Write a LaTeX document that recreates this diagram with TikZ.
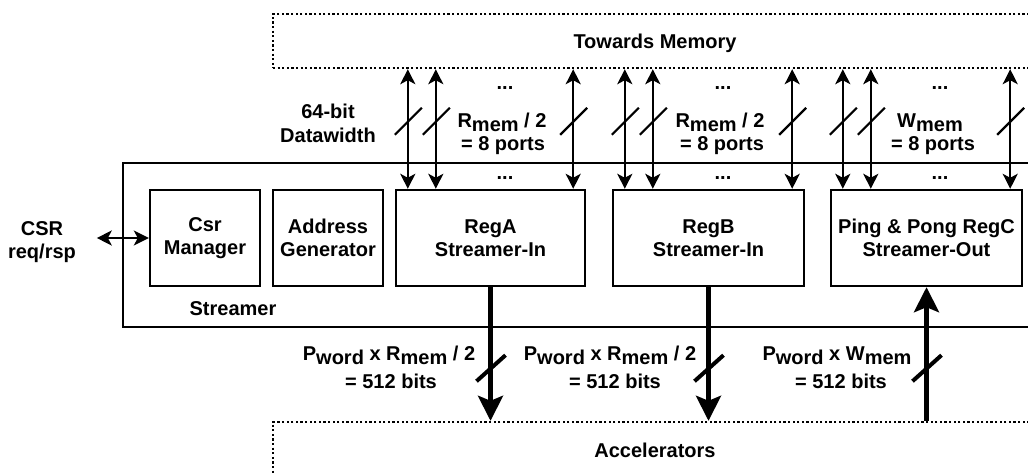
\documentclass[tikz,border=0pt]{standalone}
\usepackage{fontspec}
\setmainfont{Liberation Sans}
\usetikzlibrary{arrows.meta}
\newcommand\lowr[1]{\raisebox{-4pt}{#1}}
\begin{document}
\begin{tikzpicture}[x=1pt,y=-1pt,
  every node/.style={font=\fontsize{20}{23}\selectfont\bfseries, inner sep=0pt},
  blk/.style={draw, line width=2.4pt, minimum height=96pt, align=center},
  dotbox/.style={draw, line width=2.4pt, dash pattern=on 2.2pt off 2.4pt},
  portarrow/.style={line width=2.2pt, {Stealth[length=15pt,width=15pt,inset=4pt]}-{Stealth[length=15pt,width=15pt,inset=4pt]}},
  busarrow/.style={line width=4.5pt, -{Stealth[length=25pt,width=25pt,inset=5pt]}},
  tickmark/.style={line width=2.2pt},
  bustick/.style={line width=4pt},
  lbl/.style={anchor=base},
]
\useasboundingbox (0,0) rectangle (1028,472);
\clip (0,0) rectangle (1028,472);

% outer boxes
\node[dotbox, minimum width=772pt, minimum height=54pt] (mem) at (659,41) {};
\node[dotbox, minimum width=772pt, minimum height=68pt] (accbox) at (659,456) {};
\node[draw, line width=2.4pt, minimum width=922pt, minimum height=164pt] (str) at (584,245) {};

\node[lbl] (tm) at (655,48) {Towards Memory};
\node[lbl] (acc) at (655,457) {Accelerators};
\node[lbl] (strl) at (233,315) {Streamer};

% inner blocks
\node[blk, minimum width=110pt] (csr) at (205,238) {Csr\\Manager};
\node[blk, minimum width=110pt] (addr) at (328,238) {Address\\Generator};
\node[blk, minimum width=189pt] (rega) at (490.5,238) {RegA\\Streamer-In};
\node[blk, minimum width=191pt] (regb) at (708.5,238) {RegB\\Streamer-In};
\node[blk, minimum width=191pt] (regc) at (926.5,238) {Ping \& Pong RegC\\Streamer-Out};

% CSR
\node[lbl] (csr1) at (42,235) {CSR};
\node[lbl] (csr2) at (42,258) {req/rsp};
\draw[portarrow] (csr.west) -- ++(-52,0);

% memory ports
\foreach \b in {rega,regb,regc}{
  \foreach \o in {13,41}{
    \draw[portarrow] ([xshift=\o pt]\b.north west) -- ([xshift=\o pt]\b.north west |- mem.south);
    \draw[tickmark] ([xshift=\o pt]\b.north west) ++(-13,-54) -- ++(27,-27);
  }
  \draw[portarrow] ([xshift=-13pt]\b.north east) -- ([xshift=-13pt]\b.north east |- mem.south);
  \draw[tickmark] ([xshift=-13pt]\b.north east) ++(-13,-54) -- ++(27,-27);
}

% dots
\foreach \x in {505,723,940}{
  \node[lbl] at (\x,89) {...};
  \node[lbl] at (\x,179) {...};
}

% top labels
\node[lbl] (dw1) at (328,118) {64-bit};
\node[lbl] (dw2) at (328,142) {Datawidth};
\node[lbl] (ra1) at (502,127) {R\lowr{mem} / 2};
\node[lbl] (ra2) at (503,150) {= 8 ports};
\node[lbl] (rb1) at (720,127) {R\lowr{mem} / 2};
\node[lbl] (rb2) at (722,150) {= 8 ports};
\node[lbl] (wc1) at (930,127) {W\lowr{mem}};
\node[lbl] (wc2) at (933,150) {= 8 ports};

% buses to accelerators
\draw[busarrow] (rega.south) -- (rega.south |- accbox.north);
\draw[bustick] (rega.south) ++(-14,94) -- ++(29,-26);
\draw[busarrow] (regb.south) -- (regb.south |- accbox.north);
\draw[bustick] (regb.south) ++(-14,94) -- ++(29,-26);
\draw[busarrow] (regc.south |- accbox.north) -- (regc.south);
\draw[bustick] (regc.south) ++(-14,94) -- ++(29,-26);

% bottom labels
\node[lbl] (pa1) at (389,360) {P\lowr{word} x R\lowr{mem} / 2};
\node[lbl] (pa2) at (391,388) {= 512 bits};
\node[lbl] (pb1) at (610,360) {P\lowr{word} x R\lowr{mem} / 2};
\node[lbl] (pb2) at (615,388) {= 512 bits};
\node[lbl] (pc1) at (837,360) {P\lowr{word} x W\lowr{mem}};
\node[lbl] (pc2) at (841,388) {= 512 bits};
\end{tikzpicture}
\end{document}
